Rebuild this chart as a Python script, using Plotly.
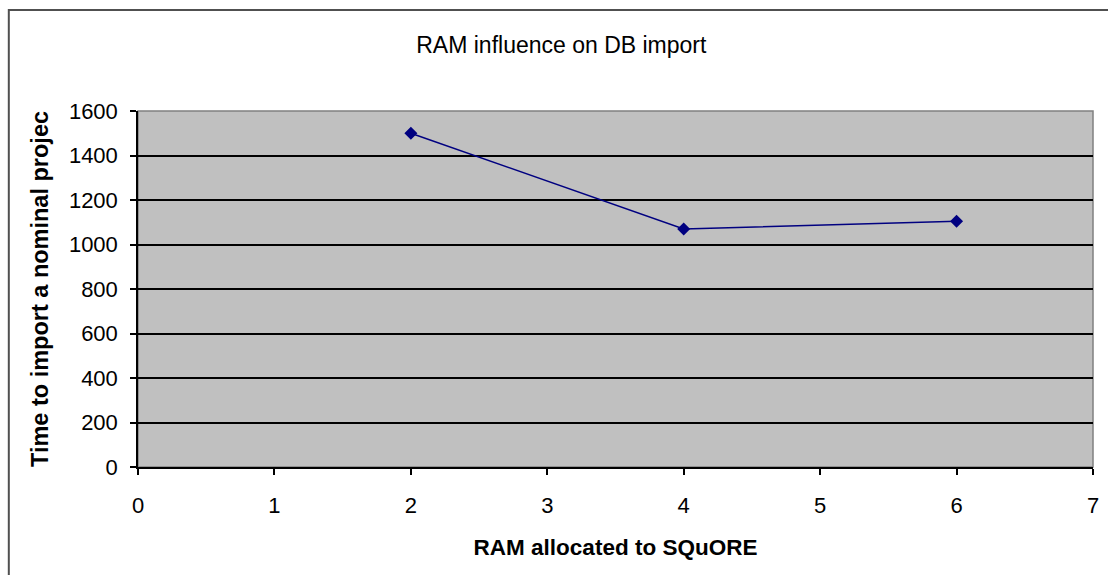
import plotly.graph_objects as go

# RAM (GB) allocated vs. time to import a nominal project
ram_gb = [2, 4, 6]
import_time = [1500, 1070, 1105]

x_ticks = [0, 1, 2, 3, 4, 5, 6, 7]
y_ticks = [0, 200, 400, 600, 800, 1000, 1200, 1400, 1600]

W, H = 1108, 575
L, R, T, B = 138, 9, 111, 108
pw, ph = W - L - R, H - T - B

def px_to_paper_x(px):
    return (px - L) / pw

def px_to_paper_y(py):
    return (H - B - py) / ph

font = "Arial, Liberation Sans, sans-serif"

fig = go.Figure()
fig.add_trace(go.Scatter(
    x=ram_gb, y=import_time,
    mode="lines+markers",
    line=dict(color="#000080", width=1.5),
    marker=dict(symbol="diamond", size=10, color="#000080"),
    showlegend=False,
    hoverinfo="x+y",
))

fig.update_layout(
    width=W, height=H,
    margin=dict(l=L, r=R, t=T, b=B),
    paper_bgcolor="white",
    plot_bgcolor="#C0C0C0",
    font=dict(family=font, size=22, color="black"),
    title=dict(
        text="RAM influence on DB import",
        x=px_to_paper_x(564), xref="paper", xanchor="center",
        y=1 - 45 / H, yanchor="middle",
        font=dict(size=23, color="black"),
    ),
    xaxis=dict(
        range=[0, 7], tickvals=x_ticks,
        showgrid=False, zeroline=False,
        showline=True, linecolor="black", linewidth=1.5,
        ticks="outside", ticklen=6, tickwidth=1.5, tickcolor="black",
        ticklabelstandoff=12,
        tickfont=dict(size=22),
        title=dict(text="<b>RAM allocated to SQuORE</b>", standoff=22,
                   font=dict(size=22.5)),
    ),
    yaxis=dict(
        range=[0, 1600], tickvals=y_ticks,
        showgrid=True, gridcolor="black", gridwidth=1.5,
        zeroline=False,
        showline=True, linecolor="black", linewidth=1.5,
        ticks="outside", ticklen=6, tickwidth=1.5, tickcolor="black",
        ticklabelstandoff=8,
        tickfont=dict(size=22),
        title=dict(text="<b>Time to import a nominal projec</b>", standoff=14,
                   font=dict(size=23.5)),
    ),
    shapes=[
        # grey border along top and right of the plot area
        dict(type="rect", xref="paper", yref="paper", x0=0, x1=1, y0=0, y1=1,
             line=dict(color="#808080", width=1.5), layer="below"),
        # outer chart frame
        dict(type="rect", xref="paper", yref="paper",
             x0=px_to_paper_x(8), x1=px_to_paper_x(W + 20),
             y0=px_to_paper_y(H + 20), y1=px_to_paper_y(10),
             line=dict(color="#505050", width=2)),
    ],
)

fig.write_html("out.html")
